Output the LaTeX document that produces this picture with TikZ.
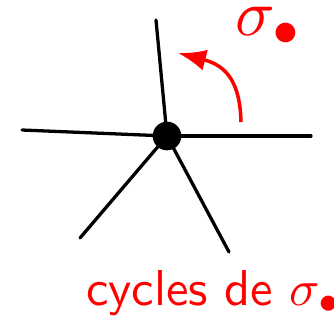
\documentclass[tikz,border=0pt]{standalone}
\usepackage{xcolor}
\usepackage{amsmath}
\usepackage{tikz}
\usetikzlibrary{arrows.meta, positioning}

\begin{document}
\begin{tikzpicture}[
    x=0.03cm, y=-0.03cm,
    spoke/.style={
        draw=black,
        line width=2.8pt,
        line cap=round
    },
    vertex/.style={
        circle,
        fill=black,
        inner sep=0pt,
        minimum size=0.86cm
    },
    turn/.style={
        draw=red,
        line width=3pt,
        -{Latex[length=0.84cm, width=0.64cm]}
    },
    toplabel/.style={
        text=red,
        inner sep=0pt
    },
    cyclabel/.style={
        text=red,
        inner sep=0pt,
        font=\sffamily
    }
]
\useasboundingbox (0,0) rectangle (334,322);

% ==================== STAR ====================

\node (centre) [vertex] at (167,136) {};
\coordinate (haut) at (156,20);
\coordinate (gauche) at (22,130);
\coordinate (droite) at (311,136);
\coordinate (basg) at (80,238);
\coordinate (basd) at (229,252);

\draw [spoke] (centre.center) -- (haut);
\draw [spoke] (centre.center) -- (gauche);
\draw [spoke] (centre.center) -- (droite);
\draw [spoke] (centre.center) -- (basg);
\draw [spoke] (centre.center) -- (basd);

% ==================== ROTATION ====================

\coordinate (rot_start) at (241,122);
\coordinate (rot_end) at (178,53);
\draw [turn] (rot_start) .. controls (240,84) and (228,66) .. (rot_end);

\node (sigma) [toplabel, anchor=base west] at (235,35) {\scalebox{5.6}{$\sigma_{\bullet}$}};
\node (cycles) [cyclabel, anchor=base west] at (86,305) {\scalebox{4.3}{cycles de $\sigma_{\bullet}$}};

\end{tikzpicture}
\end{document}
